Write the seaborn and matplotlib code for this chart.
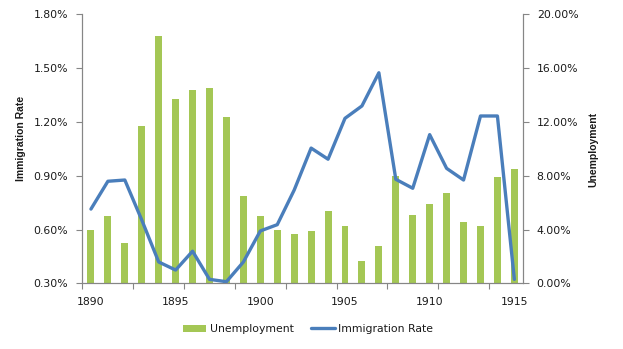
import matplotlib
matplotlib.use("Agg")
import matplotlib.pyplot as plt
import seaborn as sns
from matplotlib.ticker import FuncFormatter, FixedLocator
from matplotlib.patches import Patch
from matplotlib.lines import Line2D

years = list(range(1890, 1916))
unemployment = [4.0, 5.0, 3.0, 11.7, 18.4, 13.7, 14.4, 14.5, 12.4, 6.5,
                5.0, 4.0, 3.7, 3.9, 5.4, 4.3, 1.7, 2.8, 8.0, 5.1,
                5.9, 6.7, 4.6, 4.3, 7.9, 8.5]
immigration = [0.715, 0.870, 0.877, 0.654, 0.42, 0.375, 0.48, 0.323, 0.31, 0.42,
               0.593, 0.628, 0.821, 1.055, 0.993, 1.221, 1.290, 1.475, 0.881, 0.831,
               1.130, 0.942, 0.877, 1.234, 1.234, 0.323]
x_labels = [1890, 1895, 1900, 1905, 1910, 1915]
left_ticks = [0.3, 0.6, 0.9, 1.2, 1.5, 1.8]
right_ticks = [0, 4, 8, 12, 16, 20]

sns.set_style("white")
plt.rcParams['font.family'] = ['DejaVu Sans']

GREEN = '#A4C755'
BLUE = '#4A7EBB'
AXC = '#868686'
TXT = '#1a1a1a'

fig = plt.figure(figsize=(6.23, 3.49), dpi=100)
ax = fig.add_axes([0.1324, 0.1877, 0.7068, 0.7708])  # bars (right scale)
ax2 = ax.twinx()  # line (left scale)

sns.barplot(x=years, y=unemployment, native_scale=True, width=0.41,
            color=GREEN, saturation=1, ax=ax, edgecolor='none')
sns.lineplot(x=years, y=immigration, ax=ax2, color=BLUE, linewidth=2.4)

ax.set_xlim(1889.5, 1915.5)
ax.set_ylim(0, 20)
ax2.set_ylim(0.3, 1.8)

# bar axis -> right side
ax.yaxis.tick_right()
ax.yaxis.set_label_position('right')
ax.set_yticks(right_ticks)
ax.yaxis.set_major_formatter(FuncFormatter(lambda v, p: f"{v:.2f}%"))
# line axis -> left side
ax2.yaxis.tick_left()
ax2.yaxis.set_label_position('left')
ax2.set_yticks(left_ticks)
ax2.yaxis.set_major_formatter(FuncFormatter(lambda v, p: f"{v:.2f}%"))

# x ticks: labels every 5, marks every 3 at boundaries
ax.set_xticks(x_labels)
ax.set_xticklabels([str(v) for v in x_labels])
ax.xaxis.set_minor_locator(FixedLocator([1889.5 + 3 * k for k in range(9)]))
ax.tick_params(axis='x', which='major', length=0, pad=10, labelsize=7.8, labelcolor=TXT)
ax.tick_params(axis='x', which='minor', length=4, width=0.8, color=AXC, direction='out', bottom=True)
ax.tick_params(axis='y', length=4, width=0.8, color=AXC, direction='out', pad=6, labelsize=7.8,
               labelcolor=TXT, right=True, left=False)
ax2.tick_params(axis='y', length=4, width=0.8, color=AXC, direction='out', pad=6.5, labelsize=7.8,
                labelcolor=TXT, left=True, right=False)
ax2.tick_params(axis='x', length=0)

for a in (ax, ax2):
    a.spines['top'].set_visible(False)
    for s in ('left', 'right', 'bottom'):
        a.spines[s].set_color(AXC)
        a.spines[s].set_linewidth(0.8)
    a.grid(False)
    a.set_xlabel('')

ax.set_ylabel('Unemployment', fontsize=7.5, fontweight='bold', family='Liberation Sans', color=TXT)
ax2.set_ylabel('Immigration Rate', fontsize=7.5, fontweight='bold', family='Liberation Sans', color=TXT)
ax.yaxis.set_label_coords(1.148, 0.5)
ax2.yaxis.set_label_coords(-0.128, 0.54)

handles = [Patch(facecolor=GREEN, edgecolor='none'),
           Line2D([0], [0], color=BLUE, linewidth=2.4)]
fig.legend(handles, ['Unemployment', 'Immigration Rate'], loc='center',
           bbox_to_anchor=(0.494, 0.057), ncol=2, frameon=False, fontsize=7.8,
           handlelength=2.2, handleheight=0.6, handletextpad=0.3, columnspacing=1.6,
           labelcolor=TXT)

fig.savefig('out.png', dpi=100)
